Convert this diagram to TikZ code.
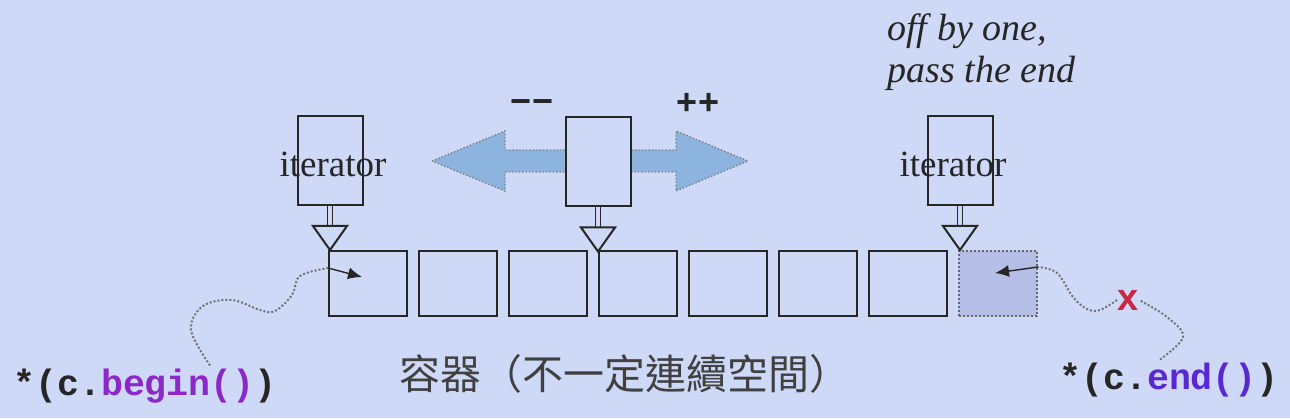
\documentclass[tikz,border=0pt]{standalone}
\usepackage{fontspec}
\setmainfont{Liberation Serif}
\setsansfont{Liberation Sans}
\setmonofont{Liberation Mono}
\newfontfamily\cjk{Noto Sans CJK TC}
\usetikzlibrary{arrows.meta,calc}

\definecolor{sfondo}{RGB}{206,217,248}
\definecolor{azzurro}{RGB}{140,180,222}
\definecolor{ombra}{RGB}{180,190,230}
\definecolor{viola}{RGB}{140,40,200}
\definecolor{indaco}{RGB}{90,40,210}
\definecolor{rosso}{RGB}{200,40,70}

\begin{document}
\begin{tikzpicture}[x=0.5pt,y=0.5pt,
		cella/.style={draw=black!85, line width=1pt, inner sep=0pt, minimum width=39pt, minimum height=32.5pt},
		oltre/.style={cella, draw=black!60, densely dotted, fill=ombra},
		scatola/.style={draw=black!85, line width=1pt, fill=sfondo, inner sep=0pt, minimum width=32.5pt, minimum height=44.5pt},
		gambo/.style={draw=black!85, line width=0.6pt, double=sfondo, double distance=2pt},
		punta/.style={draw=black!85, line width=1pt, fill=sfondo, line join=miter},
		freccia/.style={fill=azzurro, draw=black!50, densely dotted, line width=0.7pt},
		filo/.style={black!55, densely dotted, line width=1pt},
		ago/.style={black!85, line width=0.7pt, -{Latex[length=7pt,width=6pt]}},
		etichetta/.style={font=\fontsize{18.5pt}{20pt}\selectfont, text=black!85, inner sep=0pt},
		nota/.style={font=\fontsize{19pt}{21pt}\selectfont\itshape, text=black!85, inner sep=0pt, align=left},
		segno/.style={font=\fontsize{18pt}{20pt}\selectfont\sffamily\bfseries, text=black!85, inner sep=0pt},
		titolo/.style={font=\fontsize{20.5pt}{22pt}\selectfont\cjk, text=black!75, inner sep=0pt},
		codice/.style={font=\fontsize{18.3pt}{20pt}\selectfont\ttfamily\bfseries, text=black!85, inner sep=0pt},
		croce/.style={font=\fontsize{19pt}{20pt}\selectfont\sffamily\bfseries, text=rosso, inner sep=0pt},
		]
		
		\fill[sfondo](0,0)rectangle(1290,418);
		\useasboundingbox(0,0)rectangle(1290,418);
		
		%% ── contenitore ───────────────────────────────────────
		\foreach \i in {0,...,6} \node[cella](c\i)at(368+90*\i,134.5){};
		\node[oltre](c7)at(998,134.5){};
		
		%% ── -- / ++ ───────────────────────────────────────────
		\draw[freccia](432,257)--(505,287)--(505,268)--(676,268)--(676,287)--(748,257)
		--(676,227)--(676,246)--(505,246)--(505,227)--cycle;
		\node[segno](meno)at(532,311){−−};
		\node[segno](piu)at(698,314){++};
		
		%% ── iteratori ─────────────────────────────────────────
		\node[scatola](itL)at(330,257.5){};
		\node[scatola](itM)at(598,256){};
		\node[scatola](itR)at(960,257.5){};
		\foreach \p in {itL,itM,itR}{
			\draw[gambo](\p.south)--++(0,-20);
			\draw[punta]($(\p.south)+(-17,-20)$)--++(34,0)--++(-17,-24)--cycle;
		}
		\node[etichetta,anchor=base](txL)at(333,241){iterator};
		\node[etichetta,anchor=base](txR)at(953,241){iterator};
		\node[nota,anchor=base west](nota)at(887,335){off by one,\\pass the end};
		
		%% ── testi in basso ────────────────────────────────────
		\node[titolo](cap)at(625,44){容器（不一定連續空間）};
		\node[codice](beg)at(145,32){*(c.\textcolor{viola}{begin()})};
		\node[codice](fin)at(1169,38){*(c.\textcolor{indaco}{end()})};
		\node[croce](miss)at(1128,118){x};
		
		%% ── fili ──────────────────────────────────────────────
		\coordinate(begS)at($(beg.north)+(65,3)$);
		\coordinate(begE)at($(c0.west)+(0,15.5)$);
		\draw[filo]plot[smooth,tension=0.6]coordinates{(begS)(191,88)(203,112)(232,118)(260,108)(275,107)(292,123)(300,142)(begE)};
		\draw[ago](begE)--($(c0.center)+(-6,6.5)$);
		
		\coordinate(finS)at($(fin.north)+(-9,3)$);
		\coordinate(finE)at($(c7.east)+(0,16.5)$);
		\draw[filo]plot[smooth,tension=0.6]coordinates{(finS)(1183,81)(1167,101)(miss.east)};
		\draw[filo]plot[smooth,tension=0.6]coordinates{(miss.west)(1100,108)(1087,109)(1073,121)(1057,145)(finE)};
		\draw[ago](finE)--($(c7.center)+(-3,10.5)$);
		
\end{tikzpicture}
\end{document}
